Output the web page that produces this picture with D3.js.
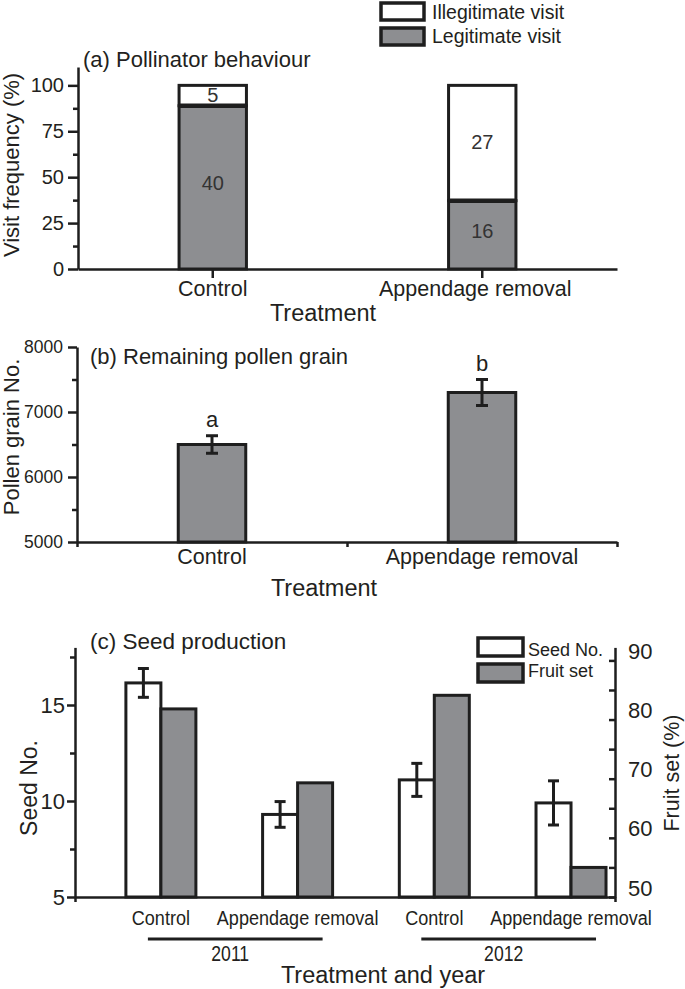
<!DOCTYPE html>
<html><head><meta charset="utf-8">
<script src="https://cdn.jsdelivr.net/npm/d3@7"></script>
<style>
body{margin:0;background:#fff;}
svg text{font-family:"Liberation Sans",Arial,Helvetica,sans-serif;fill:#231f20;}
</style></head><body>
<svg id="chart" width="685" height="989"></svg>
<script>
// ---------- data ----------
const treatments = ["Control", "Appendage removal"];
const legitVisits = [40, 16];
const illegitVisits = [5, 27];
const visitTicks = [0, 25, 50, 75, 100];
const visitMinorTicks = [12.5, 37.5, 62.5, 87.5];
const visitLegend = ["Illegitimate visit", "Legitimate visit"];

const pollenMean = [6500, 7300];
const pollenSE = [135, 200];
const pollenLetters = ["a", "b"];
const pollenTicks = [5000, 6000, 7000, 8000];
const pollenMinorTicks = [5500, 6500, 7500];

const seedGroups = ["2011 Control", "2011 Appendage removal", "2012 Control", "2012 Appendage removal"];
const seedTreatments = ["Control", "Appendage removal", "Control", "Appendage removal"];
const seedYears = ["2011", "2012"];
const seedYearOf = ["2011", "2011", "2012", "2012"];
const seedMean = [16.15, 9.3, 11.1, 9.9];
const seedSE = [0.75, 0.67, 0.86, 1.15];
const fruitSet = [81.8, 69.3, 84.1, 55.0];
const seedTicks = [5, 10, 15];
const seedMinorTicks = [7.5, 12.5, 17.5];
const fruitTicks = [50, 60, 70, 80, 90];
const fruitMinorTicks = [55, 65, 75, 85];
const seedLegend = ["Seed No.", "Fruit set"];

// ---------- style ----------
const GREY = "#8d8e91", INK = "#1e1e1e", TXT = "#231f20";
const svg = d3.select("#chart");

function styleAxis(g, size) {
  g.selectAll("path.domain").attr("stroke", INK).attr("stroke-width", 2.5);
  g.selectAll(".tick line").attr("stroke", INK).attr("stroke-width", 2.5);
  g.selectAll(".tick text").attr("font-size", size).attr("fill", TXT);
  return g;
}
function minorAxis(g) {
  g.select("path.domain").remove();
  g.selectAll(".tick text").remove();
  g.selectAll(".tick line").attr("stroke", INK).attr("stroke-width", 2.5);
}

// =============== Panel (a) ===============
const gA = svg.append("g");
const xA = d3.scaleBand().domain(treatments).range([78, 617]).paddingInner(0.75).paddingOuter(0.375);
const yA = d3.scaleLinear().domain([0, 110]).range([269, 67]);
const pctA = treatments.map((t, i) => {
  const tot = legitVisits[i] + illegitVisits[i];
  return { t, legit: legitVisits[i] / tot * 100, nL: legitVisits[i], nI: illegitVisits[i] };
});

gA.selectAll("rect.ill").data(pctA).join("rect").attr("class", "ill")
  .attr("x", d => xA(d.t)).attr("width", xA.bandwidth())
  .attr("y", yA(100)).attr("height", d => yA(d.legit) - yA(100))
  .attr("fill", "#fff").attr("stroke", INK).attr("stroke-width", 3);
gA.selectAll("rect.leg").data(pctA).join("rect").attr("class", "leg")
  .attr("x", d => xA(d.t)).attr("width", xA.bandwidth())
  .attr("y", d => yA(d.legit)).attr("height", d => yA(0) - yA(d.legit))
  .attr("fill", GREY).attr("stroke", INK).attr("stroke-width", 3);
gA.selectAll("line.sep").data(pctA).join("line").attr("class", "sep")
  .attr("x1", d => xA(d.t)).attr("x2", d => xA(d.t) + xA.bandwidth())
  .attr("y1", d => yA(d.legit)).attr("y2", d => yA(d.legit))
  .attr("stroke", INK).attr("stroke-width", 4.5);
// counts
gA.selectAll("text.nI").data(pctA).join("text").attr("class", "nI")
  .attr("x", d => xA(d.t) + xA.bandwidth() / 2)
  .attr("y", d => (yA(100) + yA(d.legit)) / 2).attr("dy", "0.3em")
  .attr("text-anchor", "middle").attr("font-size", 20).style("fill", "#333")
  .text(d => d.nI);
gA.selectAll("text.nL").data(pctA).join("text").attr("class", "nL")
  .attr("x", d => xA(d.t) + xA.bandwidth() / 2)
  .attr("y", d => (yA(0) + yA(d.legit)) / 2 - 4).attr("dy", "0.35em")
  .attr("text-anchor", "middle").attr("font-size", 20).style("fill", "#333")
  .text(d => d.nL);

styleAxis(gA.append("g").attr("transform", "translate(78,0)")
  .call(d3.axisLeft(yA).tickValues(visitTicks).tickSize(10).tickSizeOuter(0).tickPadding(4)), 20);
gA.append("g").attr("transform", "translate(78,0)")
  .call(d3.axisLeft(yA).tickValues(visitMinorTicks).tickSize(5).tickFormat("")).call(minorAxis);
const axAx = gA.append("g").attr("transform", "translate(0,269)")
  .call(d3.axisBottom(xA).tickSize(9).tickSizeOuter(0).tickPadding(3));
styleAxis(axAx, 21.5);
axAx.selectAll(".tick text").attr("x", (d, i) => i === 1 ? -7 : 0);

gA.append("text").attr("x", 83).attr("y", 67).attr("font-size", 22).text("(a) Pollinator behaviour");
gA.append("text").attr("x", 323).attr("y", 321).attr("text-anchor", "middle").attr("font-size", 23.5).text("Treatment");
gA.append("text").attr("transform", "translate(19,165) rotate(-90)").attr("text-anchor", "middle")
  .attr("font-size", 22).text("Visit frequency (%)");
// legend
const legA = gA.append("g");
legA.selectAll("rect").data(visitLegend).join("rect")
  .attr("x", 381).attr("y", (d, i) => 3 + i * 25).attr("width", 43).attr("height", 17)
  .attr("fill", (d, i) => i === 0 ? "#fff" : GREY).attr("stroke", INK).attr("stroke-width", 3.5);
legA.selectAll("text").data(visitLegend).join("text")
  .attr("x", 432).attr("y", (d, i) => 19 + i * 24).attr("font-size", 19.5).text(d => d);

// =============== Panel (b) ===============
const gB = svg.append("g");
const xB = d3.scaleBand().domain(treatments).range([77, 617]).paddingInner(0.75).paddingOuter(0.375);
const xBlin = d3.scaleLinear().domain([0, treatments.length]).range([77, 617]);
const yB = d3.scaleLinear().domain([5000, 8000]).range([542, 347]);

gB.selectAll("rect").data(treatments).join("rect")
  .attr("x", d => xB(d)).attr("width", xB.bandwidth())
  .attr("y", (d, i) => yB(pollenMean[i])).attr("height", (d, i) => yB(5000) - yB(pollenMean[i]))
  .attr("fill", GREY).attr("stroke", INK).attr("stroke-width", 3);
const ebB = gB.selectAll("g.err").data(treatments).join("g").attr("class", "err")
  .attr("stroke", INK).attr("stroke-width", 3);
ebB.append("line").attr("x1", d => xB(d) + xB.bandwidth() / 2).attr("x2", d => xB(d) + xB.bandwidth() / 2)
  .attr("y1", (d, i) => yB(pollenMean[i] + pollenSE[i])).attr("y2", (d, i) => yB(pollenMean[i] - pollenSE[i]));
[1, -1].forEach(s => {
  ebB.append("line").attr("x1", d => xB(d) + xB.bandwidth() / 2 - 6).attr("x2", d => xB(d) + xB.bandwidth() / 2 + 6)
    .attr("y1", (d, i) => yB(pollenMean[i] + s * pollenSE[i])).attr("y2", (d, i) => yB(pollenMean[i] + s * pollenSE[i]));
});
gB.selectAll("text.let").data(treatments).join("text").attr("class", "let")
  .attr("x", d => xB(d) + xB.bandwidth() / 2)
  .attr("y", (d, i) => yB(pollenMean[i] + pollenSE[i]) - 9)
  .attr("text-anchor", "middle").attr("font-size", 22).text((d, i) => pollenLetters[i]);

styleAxis(gB.append("g").attr("transform", "translate(77,0)")
  .call(d3.axisLeft(yB).tickValues(pollenTicks).tickFormat(d3.format("d")).tickSize(9).tickSizeOuter(0).tickPadding(5)), 17.5);
gB.append("g").attr("transform", "translate(77,0)")
  .call(d3.axisLeft(yB).tickValues(pollenMinorTicks).tickSize(5).tickFormat("")).call(minorAxis);
styleAxis(gB.append("g").attr("transform", "translate(0,542)")
  .call(d3.axisBottom(xBlin).tickValues(d3.range(treatments.length + 1)).tickSize(5).tickSizeOuter(0).tickFormat("")), 17);
const xBlab = gB.append("g").attr("transform", "translate(0,542)")
  .call(d3.axisBottom(xB).tickSize(0).tickPadding(7));
xBlab.select("path.domain").remove();
xBlab.selectAll(".tick text").attr("font-size", 21.5).attr("fill", TXT);

gB.append("text").attr("x", 90).attr("y", 364).attr("font-size", 22).text("(b) Remaining pollen grain");
gB.append("text").attr("x", 324).attr("y", 596).attr("text-anchor", "middle").attr("font-size", 23.5).text("Treatment");
gB.append("text").attr("transform", "translate(19,437) rotate(-90)").attr("text-anchor", "middle")
  .attr("font-size", 22).text("Pollen grain No.");

// =============== Panel (c) ===============
const gC = svg.append("g");
const xC = d3.scaleBand().domain(seedGroups).range([75, 615]).paddingInner(0.488).paddingOuter(0.219).align(0.85);
const xSub = d3.scaleBand().domain(["seed", "fruit"]).range([0, xC.bandwidth()]);
const ySeed = d3.scaleLinear().domain([5, 18]).range([897, 647.4]);
const yFruit = d3.scaleLinear().domain([50, 92.2]).range([897, 647.4]);

gC.selectAll("rect.seed").data(seedGroups).join("rect").attr("class", "seed")
  .attr("x", d => xC(d) + xSub("seed")).attr("width", xSub.bandwidth())
  .attr("y", (d, i) => ySeed(seedMean[i])).attr("height", (d, i) => ySeed(5) - ySeed(seedMean[i]))
  .attr("fill", "#fff").attr("stroke", INK).attr("stroke-width", 3);
gC.selectAll("rect.fruit").data(seedGroups).join("rect").attr("class", "fruit")
  .attr("x", d => xC(d) + xSub("fruit")).attr("width", xSub.bandwidth())
  .attr("y", (d, i) => yFruit(fruitSet[i])).attr("height", (d, i) => yFruit(50) - yFruit(fruitSet[i]))
  .attr("fill", GREY).attr("stroke", INK).attr("stroke-width", 3);
const cxSeed = d => xC(d) + xSub("seed") + xSub.bandwidth() / 2;
const ebC = gC.selectAll("g.err").data(seedGroups).join("g").attr("class", "err")
  .attr("stroke", INK).attr("stroke-width", 3);
ebC.append("line").attr("x1", cxSeed).attr("x2", cxSeed)
  .attr("y1", (d, i) => ySeed(seedMean[i] + seedSE[i])).attr("y2", (d, i) => ySeed(seedMean[i] - seedSE[i]));
[1, -1].forEach(s => {
  ebC.append("line").attr("x1", d => cxSeed(d) - 5.5).attr("x2", d => cxSeed(d) + 5.5)
    .attr("y1", (d, i) => ySeed(seedMean[i] + s * seedSE[i])).attr("y2", (d, i) => ySeed(seedMean[i] + s * seedSE[i]));
});

styleAxis(gC.append("g").attr("transform", "translate(75,0)")
  .call(d3.axisLeft(ySeed).tickValues(seedTicks).tickSize(8).tickSizeOuter(0).tickPadding(2)), 22);
gC.append("g").attr("transform", "translate(75,0)")
  .call(d3.axisLeft(ySeed).tickValues(seedMinorTicks).tickSize(5).tickFormat("")).call(minorAxis);
const axR = gC.append("g").attr("transform", "translate(615,0)")
  .call(d3.axisRight(yFruit).tickValues(fruitTicks).tickSizeInner(-6).tickSizeOuter(0).tickPadding(13));
styleAxis(axR, 22);
axR.selectAll(".tick text").attr("y", -9);
gC.append("g").attr("transform", "translate(615,0)")
  .call(d3.axisRight(yFruit).tickValues(fruitMinorTicks).tickSizeInner(-6).tickFormat("")).call(minorAxis);
const xClin = d3.scaleLinear().domain([0, 1]).range([75, 615]);
styleAxis(gC.append("g").attr("transform", "translate(0,897)")
  .call(d3.axisBottom(xClin).tickValues([0, 1]).tickSize(5).tickSizeOuter(0).tickFormat("")), 17);

// group labels
gC.selectAll("text.grp").data(seedGroups).join("text").attr("class", "grp")
  .attr("transform", d => `translate(${xC(d) + xC.bandwidth() / 2},925) scale(0.86,1)`)
  .attr("text-anchor", "middle").attr("font-size", 21).text((d, i) => seedTreatments[i]);
// year underlines
const yearSpan = seedYears.map(y => {
  const gs = seedGroups.filter((g, i) => seedYearOf[i] === y);
  const x1 = xC(gs[0]) + 22;
  const x2 = xC(gs[gs.length - 1]) + xC.bandwidth() - 10;
  return { y, x1, x2 };
});
gC.selectAll("line.yr").data(yearSpan).join("line").attr("class", "yr")
  .attr("x1", d => d.x1).attr("x2", d => d.x2).attr("y1", 939).attr("y2", 939)
  .attr("stroke", INK).attr("stroke-width", 3);
gC.selectAll("text.yr").data(yearSpan).join("text").attr("class", "yr")
  .attr("transform", d => `translate(${(d.x1 + d.x2) / 2 - 5},961) scale(0.8,1)`)
  .attr("text-anchor", "middle").attr("font-size", 22).text(d => d.y);

gC.append("text").attr("x", 90).attr("y", 649).attr("font-size", 22.5).text("(c) Seed production");
gC.append("text").attr("x", 383).attr("y", 983).attr("text-anchor", "middle").attr("font-size", 23.5).text("Treatment and year");
gC.append("text").attr("transform", "translate(37,788) rotate(-90)").attr("text-anchor", "middle")
  .attr("font-size", 23).text("Seed No.");
gC.append("text").attr("transform", "translate(679,773) rotate(-90)").attr("text-anchor", "middle")
  .attr("font-size", 21.5).text("Fruit set (%)");
// legend
const legC = gC.append("g");
legC.selectAll("rect").data(seedLegend).join("rect")
  .attr("x", 478).attr("y", (d, i) => 638 + i * 26).attr("width", 45).attr("height", 18)
  .attr("fill", (d, i) => i === 0 ? "#fff" : GREY).attr("stroke", INK).attr("stroke-width", 3.5);
legC.selectAll("text").data(seedLegend).join("text")
  .attr("x", 528).attr("y", (d, i) => 656 + i * 21).attr("font-size", 18).text(d => d);
</script>
</body></html>
